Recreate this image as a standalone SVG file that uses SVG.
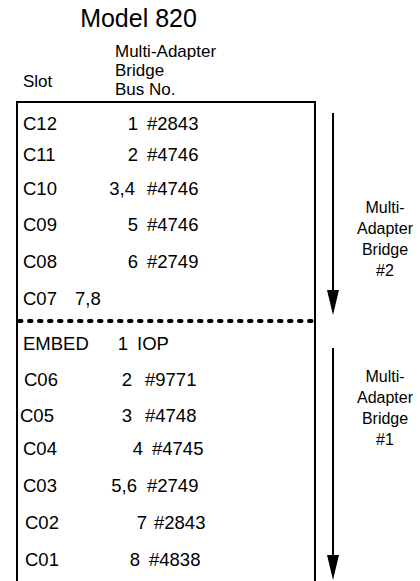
<svg xmlns="http://www.w3.org/2000/svg" width="420" height="581" viewBox="0 0 420 581">
<defs>
<style>
text{font-family:"Liberation Sans",Arial,Helvetica,sans-serif;fill:#000}
.t{font-size:18.5px}
.h{font-size:17px}
.r{font-size:16px;text-anchor:middle}
.e{text-anchor:end}
.ln{stroke:#000;stroke-width:2;fill:none}
.dot{stroke:#000;stroke-width:4;stroke-linecap:round;stroke-dasharray:2.5 7.5;fill:none}
</style>
<marker id="ah" markerWidth="25" markerHeight="12" refX="10" refY="6" orient="auto" markerUnits="userSpaceOnUse" viewBox="0 0 25 12">
<path d="M0,0 L25,6 L0,12 Z" fill="#000"/>
</marker>
</defs>
<g id="title"><text x="138.5" y="27" style="font-size:25px;text-anchor:middle">Model 820</text></g>
<g id="header">
<text class="h" x="23" y="87">Slot</text>
<text class="h" x="115" y="57">Multi-Adapter</text>
<text class="h" x="115" y="76">Bridge</text>
<text class="h" x="115" y="95">Bus No.</text>
</g>
<g id="table">
<path class="ln" d="M17,581 V102 H315 V581"/>
<line class="dot" x1="19" y1="321" x2="313" y2="321"/>
</g>
<g id="rows" class="t">
<g id="C12"><text x="23" y="130">C12</text><text class="e" x="138" y="130">1</text><text x="147" y="130">#2843</text></g>
<g id="C11"><text x="23" y="161">C11</text><text class="e" x="138" y="161">2</text><text x="147" y="161">#4746</text></g>
<g id="C10"><text x="23" y="195">C10</text><text class="e" x="135" y="195">3,4</text><text x="147" y="195">#4746</text></g>
<g id="C09"><text x="23" y="231">C09</text><text class="e" x="138" y="231">5</text><text x="147" y="231">#4746</text></g>
<g id="C08"><text x="23" y="268">C08</text><text class="e" x="138" y="268">6</text><text x="147" y="268">#2749</text></g>
<g id="C07"><text x="23" y="305">C07</text><text x="75" y="305">7,8</text></g>
<g id="EMBED"><text x="23" y="350">EMBED</text><text class="e" x="128" y="350">1</text><text x="137" y="350">IOP</text></g>
<g id="C06"><text x="24" y="386">C06</text><text class="e" x="132" y="386">2</text><text x="145" y="386">#9771</text></g>
<g id="C05"><text x="20" y="422">C05</text><text class="e" x="132" y="422">3</text><text x="145" y="422">#4748</text></g>
<g id="C04"><text x="23" y="455">C04</text><text class="e" x="143" y="455">4</text><text x="152" y="455">#4745</text></g>
<g id="C03"><text x="23" y="492">C03</text><text class="e" x="137" y="492">5,6</text><text x="147" y="492">#2749</text></g>
<g id="C02"><text x="25" y="529">C02</text><text class="e" x="147" y="529">7</text><text x="154" y="529">#2843</text></g>
<g id="C01"><text x="25" y="566">C01</text><text class="e" x="140" y="566">8</text><text x="149" y="566">#4838</text></g>
</g>
<g id="connectors">
<line class="ln" x1="333" y1="113" x2="333" y2="300" marker-end="url(#ah)"/>
<line class="ln" x1="333" y1="348" x2="333" y2="565" marker-end="url(#ah)"/>
</g>
<g id="bridge2">
<text class="r" x="385" y="213">Multi-</text>
<text class="r" x="385" y="234">Adapter</text>
<text class="r" x="385" y="255">Bridge</text>
<text class="r" x="385" y="276">#2</text>
</g>
<g id="bridge1">
<text class="r" x="385" y="382">Multi-</text>
<text class="r" x="385" y="403">Adapter</text>
<text class="r" x="385" y="424">Bridge</text>
<text class="r" x="385" y="445">#1</text>
</g>
</svg>
